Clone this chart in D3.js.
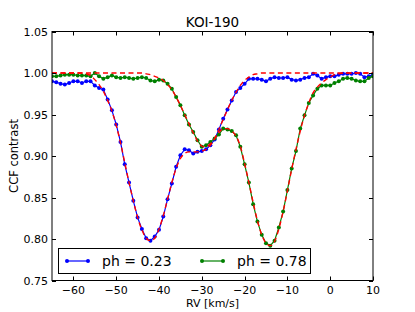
<!DOCTYPE html>
<html>
<head>
<meta charset="utf-8">
<script src="https://cdn.jsdelivr.net/npm/d3@7"></script>
<style>
html,body{margin:0;padding:0;background:#fff;}
svg text{font-family:"DejaVu Sans",sans-serif;fill:#000;}
</style>
</head>
<body>
<svg id="chart" width="415" height="312"></svg>
<script>
const rv = d3.range(-65, 11, 1);
const blueValues = [0.990,0.989,0.987,0.986,0.988,0.990,0.990,0.988,0.990,0.990,
  0.985,0.982,0.980,0.968,0.955,0.938,0.917,0.890,0.868,0.846,
  0.826,0.812,0.801,0.798,0.803,0.811,0.827,0.848,0.867,0.887,
  0.901,0.908,0.907,0.903,0.905,0.906,0.908,0.913,0.920,0.932,
  0.945,0.956,0.967,0.977,0.982,0.987,0.993,0.993,0.993,0.992,
  0.990,0.993,0.995,0.994,0.994,0.995,0.992,0.991,0.992,0.994,
  0.995,0.999,0.997,0.993,0.995,0.996,0.996,0.998,0.999,0.999,
  0.999,1.000,0.999,0.995,0.996,0.998];
const greenValues = [0.996,0.996,0.997,0.998,0.998,0.998,0.997,0.997,0.997,0.996,
  1.000,0.996,0.993,0.995,0.997,0.995,0.994,0.995,0.994,0.993,
  0.994,0.995,0.994,0.991,0.990,0.992,0.991,0.987,0.981,0.971,
  0.961,0.949,0.938,0.929,0.919,0.911,0.913,0.917,0.921,0.926,
  0.933,0.932,0.930,0.925,0.911,0.890,0.868,0.842,0.821,0.805,
  0.795,0.792,0.798,0.814,0.833,0.859,0.885,0.906,0.933,0.949,
  0.964,0.973,0.981,0.985,0.985,0.985,0.988,0.990,0.993,0.994,
  0.993,0.991,0.990,0.990,0.994,0.996];
const fitBlue = [1.000,1.000,1.000,1.000,1.000,1.000,1.000,1.000,0.999,0.997,
  0.992,0.986,0.978,0.967,0.954,0.937,0.916,0.892,0.868,0.846,
  0.826,0.811,0.801,0.798,0.801,0.812,0.828,0.848,0.868,0.885,
  0.897,0.903,0.905,0.905,0.905,0.906,0.908,0.913,0.921,0.932,
  0.944,0.956,0.967,0.977,0.985,0.991,0.995,0.998,0.999,1.000,
  1.000,1.000,1.000,1.000,1.000,1.000,1.000,1.000,1.000,1.000,
  1.000,1.000,1.000,1.000,1.000,1.000,1.000,1.000,1.000,1.000,
  1.000,1.000,1.000,1.000,1.000,1.000];
const fitGreen = [1.000,1.000,1.000,1.000,1.000,1.000,1.000,1.000,1.000,1.000,
  1.000,1.000,1.000,1.000,1.000,1.000,1.000,1.000,1.000,1.000,
  1.000,1.000,0.999,0.998,0.996,0.994,0.991,0.986,0.980,0.971,
  0.961,0.950,0.939,0.928,0.918,0.912,0.911,0.915,0.921,0.928,
  0.933,0.933,0.930,0.924,0.912,0.891,0.868,0.844,0.822,0.805,
  0.795,0.792,0.797,0.812,0.833,0.858,0.884,0.908,0.930,0.949,
  0.964,0.976,0.983,0.988,0.992,0.995,0.998,0.999,1.000,1.000,
  1.000,1.000,1.000,1.000,1.000,1.000];
const xTicks = [-60,-50,-40,-30,-20,-10,0,10];
const yTicks = [0.75,0.80,0.85,0.90,0.95,1.00,1.05];
const legendLabels = ["ph = 0.23","ph = 0.78"];
const title = "KOI-190";

const W = 415, H = 312;
const m = {left:52, right:373, top:31.5, bottom:280.5};
const svg = d3.select("#chart");
const x = d3.scaleLinear().domain([-65,10]).range([m.left, m.right]);
const y = d3.scaleLinear().domain([0.75,1.05]).range([m.bottom, m.top]);

const blue = "#0000ff", green = "#008000", red = "#ff0000";
svg.append("defs").append("clipPath").attr("id","c")
  .append("rect").attr("x",m.left).attr("y",m.top).attr("width",m.right-m.left).attr("height",m.bottom-m.top);
const g = svg.append("g").attr("clip-path","url(#c)");

const line = d3.line().x(d=>x(d[0])).y(d=>y(d[1]));
const smooth = d3.line().x(d=>x(d[0])).y(d=>y(d[1])).curve(d3.curveMonotoneX);

function series(vals, col){
  const pts = rv.map((v,i)=>[v, vals[i]]);
  g.append("path").attr("d", line(pts)).attr("fill","none").attr("stroke",col).attr("stroke-width",1.2);
  g.selectAll(null).data(pts).enter().append("circle")
    .attr("cx",d=>x(d[0])).attr("cy",d=>y(d[1])).attr("r",2).attr("fill",col);
}
series(blueValues, blue);
series(greenValues, green);
[fitBlue, fitGreen].forEach(f=>{
  g.append("path").attr("d", smooth(rv.map((v,i)=>[v,f[i]])))
    .attr("fill","none").attr("stroke",red).attr("stroke-width",1.4)
    .attr("stroke-dasharray","5,3.5");
});

// frame
svg.append("rect").attr("x",m.left).attr("y",m.top).attr("width",m.right-m.left).attr("height",m.bottom-m.top)
  .attr("fill","none").attr("stroke","#000").attr("stroke-width",1);

// ticks (inward, all sides)
const tl = 4;
xTicks.forEach(t=>{
  const px = Math.round(x(t))+0.5;
  svg.append("line").attr("x1",px).attr("x2",px).attr("y1",m.bottom).attr("y2",m.bottom-tl).attr("stroke","#000");
  svg.append("line").attr("x1",px).attr("x2",px).attr("y1",m.top).attr("y2",m.top+tl).attr("stroke","#000");
  svg.append("text").attr("x",x(t)).attr("y",294).attr("text-anchor","middle").attr("font-size",11)
    .text(t<0 ? "\u2212"+Math.abs(t) : String(t));
});
yTicks.forEach(t=>{
  const py = Math.round(y(t))+0.5;
  svg.append("line").attr("x1",m.left).attr("x2",m.left+tl).attr("y1",py).attr("y2",py).attr("stroke","#000");
  svg.append("line").attr("x1",m.right).attr("x2",m.right-tl).attr("y1",py).attr("y2",py).attr("stroke","#000");
  svg.append("text").attr("x",48).attr("y",y(t)+4).attr("text-anchor","end").attr("font-size",11)
    .text(t.toFixed(2));
});

svg.append("text").attr("x",(m.left+m.right)/2).attr("y",27).attr("text-anchor","middle").attr("font-size",13.5).text(title);
svg.append("text").attr("x",(m.left+m.right)/2).attr("y",307).attr("text-anchor","middle").attr("font-size",11).text("RV [km/s]");
svg.append("text").attr("transform",`translate(18,${(m.top+m.bottom)/2}) rotate(-90)`).attr("text-anchor","middle").attr("font-size",11.5).text("CCF contrast");

// legend
const lg = svg.append("g");
lg.append("rect").attr("x",58.5).attr("y",248.5).attr("width",252).attr("height",25).attr("fill","#fff").attr("stroke","#000");
[[blue,67,legendLabels[0],102],[green,202,legendLabels[1],237]].forEach(([c,x0,lab,tx])=>{
  lg.append("line").attr("x1",x0).attr("x2",x0+21).attr("y1",261).attr("y2",261).attr("stroke",c).attr("stroke-width",1.2);
  [x0,x0+21].forEach(cx=>lg.append("circle").attr("cx",cx).attr("cy",261).attr("r",2).attr("fill",c));
  lg.append("text").attr("x",tx).attr("y",266).attr("font-size",14).text(lab);
});
</script>
</body>
</html>
